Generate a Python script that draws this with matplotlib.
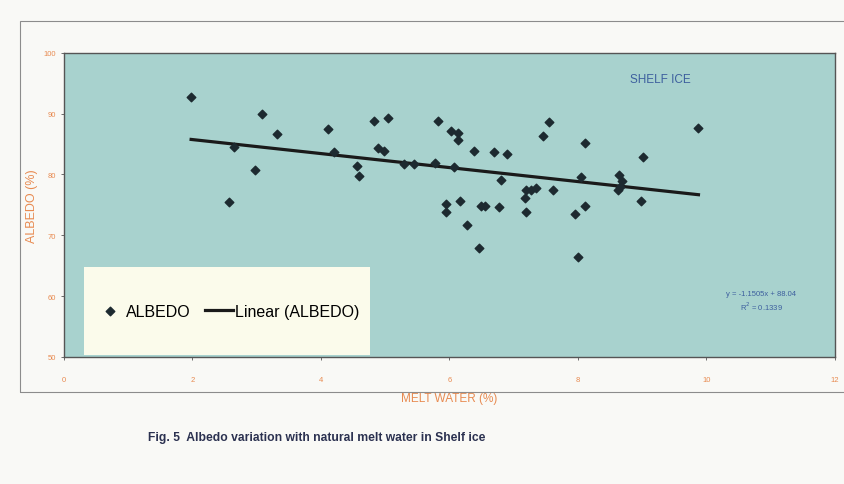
import matplotlib.pyplot as plt
import numpy as np
from matplotlib.patches import Rectangle

# values
melt_water = [1.98, 2.57, 2.65, 2.98, 3.08, 3.32, 4.11, 4.20, 4.56, 4.59,
              4.82, 4.89, 4.99, 5.04, 5.30, 5.45, 5.77, 5.83, 5.95, 5.95,
              6.03, 6.14, 6.13, 6.07, 6.16, 6.28, 6.39, 6.46, 6.50, 6.55,
              6.70, 6.78, 6.81, 6.90, 7.20, 7.18, 7.27, 7.35, 7.20, 7.46,
              7.55, 7.62, 7.96, 8.00, 8.05, 8.12, 8.12, 8.65, 8.69, 8.66,
              8.62, 8.98, 9.01, 9.88]
albedo = [92.7, 75.4, 84.5, 80.8, 89.9, 86.6, 87.5, 83.7, 81.4, 79.7,
          88.8, 84.3, 83.9, 89.3, 81.8, 81.8, 81.9, 88.8, 75.2, 73.8,
          87.2, 86.8, 85.7, 81.2, 75.7, 71.7, 83.9, 67.9, 74.8, 74.8,
          83.7, 74.7, 79.1, 83.4, 77.5, 76.2, 77.5, 77.8, 73.9, 86.3,
          88.7, 77.5, 73.5, 66.4, 79.6, 85.1, 74.8, 79.9, 79.0, 78.0,
          77.4, 75.7, 82.8, 87.7]

x_ticks = [0, 2, 4, 6, 8, 10, 12]
y_ticks = [50, 60, 70, 80, 90, 100]
slope, intercept = -1.1505, 88.04

orange = '#e88a50'
blue = '#3d5f9e'

plt.rcParams['font.family'] = ['Liberation Sans', 'DejaVu Sans']

fig = plt.figure(figsize=(8.45, 4.85), dpi=100, facecolor='#f9f9f6')
ax = fig.add_axes([0.0757, 0.262, 0.912, 0.627])
ax.set_facecolor('#a8d2ce')

# chart area border of the scanned page
fig.patches.append(Rectangle((20 / 845, 1 - 393 / 485), 830 / 845, 371 / 485,
                             transform=fig.transFigure, fill=False,
                             edgecolor='#8c8c8c', lw=0.8))

ax.scatter(melt_water, albedo, marker='D', s=19, color='#1d2a30', zorder=3,
           label='ALBEDO')

xs = np.array([min(melt_water), max(melt_water)])
ax.plot(xs, slope * xs + intercept, color='#1a1a1a', lw=2.3, zorder=2,
        label='Linear (ALBEDO)')

ax.set_xlim(0, 12)
ax.set_ylim(50, 100)
ax.set_xticks(x_ticks)
ax.set_yticks(y_ticks)
ax.tick_params(colors='#555555', labelcolor=orange, labelsize=5.5, length=2,
               width=0.6)
ax.tick_params(axis='x', pad=12)
for s in ax.spines.values():
    s.set_color('#555555')
    s.set_linewidth(1.0)

ax.set_xlabel('MELT WATER (%)', color=orange, fontsize=8.5, labelpad=6)
ax.set_ylabel('ALBEDO (%)', color=orange, fontsize=9, labelpad=4)

ax.text(0.735, 0.905, 'SHELF ICE', transform=ax.transAxes, color=blue,
        fontsize=8.5)
ax.text(0.905, 0.205, 'y = -1.1505x + 88.04', transform=ax.transAxes,
        color=blue, fontsize=5.5, ha='center')
ax.text(0.905, 0.155, 'R$^2$ = 0.1339', transform=ax.transAxes,
        color=blue, fontsize=5.5, ha='center')

# legend box
ax.add_patch(Rectangle((0.026, 0.007), 0.371, 0.29, transform=ax.transAxes,
                       facecolor='#fbfbeb', edgecolor='none', zorder=4))
leg = ax.legend(loc='center', bbox_to_anchor=(0.213, 0.151), ncol=2,
                fontsize=11.5, frameon=False, handlelength=1.7,
                handletextpad=0.15, columnspacing=0.9)
leg.set_zorder(5)

fig.text(148 / 845, 1 - 441 / 485,
         'Fig. 5  Albedo variation with natural melt water in Shelf ice',
         color='#2b3150', fontsize=8.7, fontweight='bold')

fig.savefig('out.png', dpi=100, facecolor=fig.get_facecolor())
